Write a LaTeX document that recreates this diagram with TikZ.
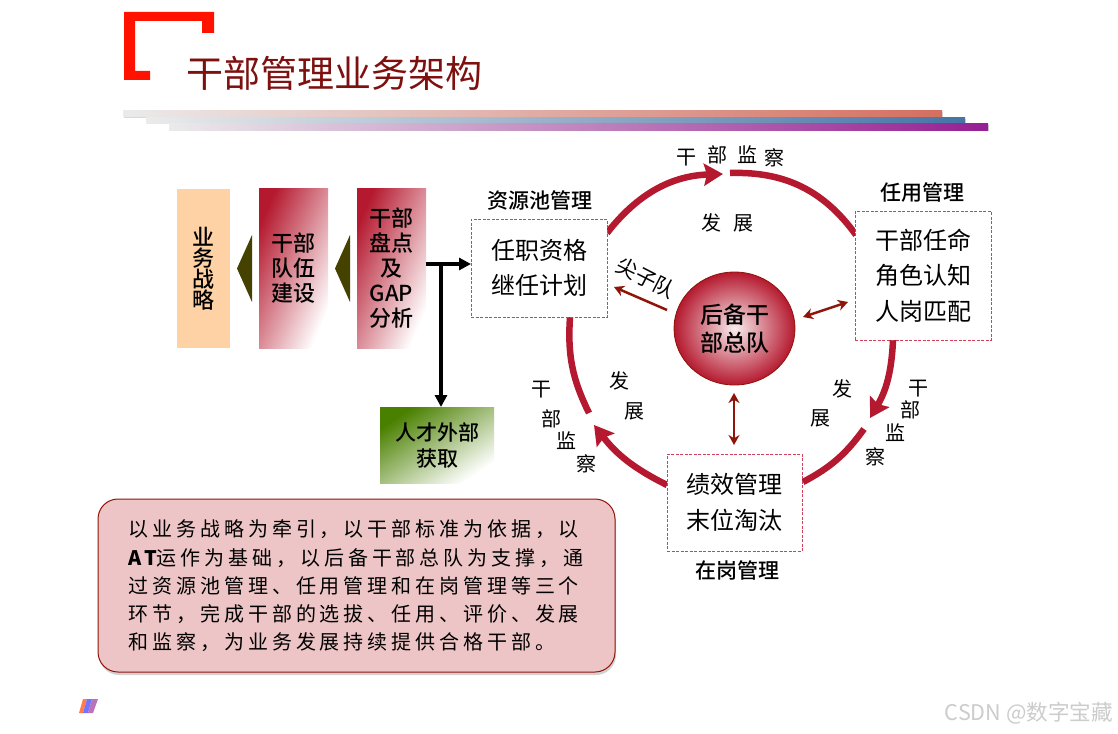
\documentclass[tikz,border=0pt]{standalone}
\usepackage{fontspec}
\setmainfont{Noto Sans CJK SC}
\newfontfamily\spreadfont[LetterSpace=19.5]{Noto Sans CJK SC}
\newfontfamily\midfont{Noto Sans CJK SC Medium}
\usetikzlibrary{arrows.meta,shadows,shapes.geometric}
\newcommand{\fsize}[2]{\fontsize{#1}{#2}\selectfont}
\definecolor{ringred}{HTML}{B5192F}
\definecolor{linkred}{HTML}{8F1409}
\definecolor{dashred}{HTML}{D2405C}
\definecolor{titlered}{HTML}{7E1010}
\definecolor{wedge}{HTML}{454200}
\definecolor{leafgreen}{HTML}{4A8000}
\definecolor{barred}{HTML}{D56F60}
\definecolor{barblue}{HTML}{4574A6}
\definecolor{barviolet}{HTML}{952093}
\definecolor{panelpink}{HTML}{EEC5C6}
\tikzset{
	block/.style={inner sep=0pt, align=center, text=black, top color=ringred, bottom color=white, shading angle=66.7, font=\midfont\fsize{22}{25}},
	dashbox/.style={draw=dashred, dash pattern=on 3pt off 1.5pt, line width=1pt, fill=white, inner sep=0pt, align=center, font=\fsize{24}{35.5}},
	head/.style={font=\midfont\fsize{21}{25}, text=black, inner sep=0pt},
	tag/.style={font=\fsize{20}{20}, inner sep=0pt},
	ring/.style={ringred, line width=6.5pt},
	ringarrow/.style={ring, -{Stealth[length=19pt,width=22pt,inset=3pt]}},
	link/.style={linkred, line width=2.5pt, >={Stealth[length=10pt,width=11pt]}},
	feed/.style={black, line width=3.5pt, -{Triangle[length=12pt,width=12pt]}},
	bar/.style={drop shadow={shadow xshift=1pt, shadow yshift=-1pt, opacity=0.3}}
}
\begin{document}
\begin{tikzpicture}[x=1pt, y=-1pt]
	\useasboundingbox (0,0) rectangle (1118,733);
	\fill[white] (0,0) rectangle (1118,733);
	% heading
	\fill[red!85!orange] (124,12) -- (214,12) -- (214,33) -- (202,33) -- (202,21) -- (135,21) -- (135,71) -- (150,71) -- (150,80) -- (124,80) -- cycle;
	\node[font=\fsize{37}{37}, text=titlered, inner sep=0pt] (title) at (334,73) {干部管理业务架构};
	\fill[bar, left color=black!8, middle color=barred!50!black!8, right color=barred] (123,111) rectangle (942,117);
	\fill[bar, left color=black!8, middle color=barblue!50!black!8, right color=barblue] (146,118) rectangle (965,123.5);
	\fill[bar, left color=black!8, middle color=barviolet!50!black!8, right color=barviolet] (169,124) rectangle (988,130);
	% left column
	\node[inner sep=0pt, fill=orange!35!white, minimum width=53pt, minimum height=159pt, align=center, font=\midfont\fsize{22}{21}, text=black] (strategy) at (203.5,268.5) {业\\务\\战\\略};
	\node[block, minimum width=69pt, minimum height=160pt] (team) at (293.5,268) {干部\\队伍\\建设};
	\node[block, minimum width=69pt, minimum height=160pt] (stock) at (391.5,268) {干部\\盘点\\及\\GAP\\分析};
	\node[block, top color=leafgreen, shading angle=33.7, minimum width=114pt, minimum height=76pt, font=\midfont\fsize{21}{26}] (outside) at (437,445) {人才外部\\获取};
	\fill[wedge] (252,235) -- (252,302) -- (237,268.5) -- cycle;
	\fill[wedge] (350,235) -- (350,302) -- (335,268.5) -- cycle;
	% ring
	\coordinate (a1) at (607,233);
	\coordinate (a2) at (723,174);
	\coordinate (b1) at (730,173);
	\coordinate (b2) at (856,235);
	\coordinate (c1) at (893,340);
	\coordinate (c2) at (870,418);
	\coordinate (d1) at (864,429);
	\coordinate (d2) at (803,482);
	\coordinate (e1) at (667,485);
	\coordinate (e2) at (594,425);
	\coordinate (f1) at (589,413);
	\coordinate (f2) at (570,317);
	\draw[ringarrow] (a1) to[bend left=25] (a2);
	\draw[ring] (b1) to[bend left=28] (b2);
	\draw[ringarrow] (c1) to[bend left=14] (c2);
	\draw[ring] (d1) to[bend left=13] (d2);
	\draw[ringarrow] (e1) to[bend left=13] (e2);
	\draw[ring] (f1) to[bend left=15] (f2);
	\node[dashbox, minimum width=136pt, minimum height=98pt] (pool) at (539,268) {任职资格\\继任计划};
	\node[dashbox, minimum width=136pt, minimum height=129pt] (appoint) at (923,275.5) {干部任命\\角色认知\\人岗匹配};
	\node[dashbox, minimum width=135pt, minimum height=97pt] (review) at (734.5,502.5) {绩效管理\\末位淘汰};
	\node[head] (poolhead) at (540,200) {资源池管理};
	\node[head] (appointhead) at (922,193) {任用管理};
	\node[head] (reviewhead) at (737,570) {在岗管理};
	\node[ellipse, draw=linkred, line width=0.8pt, minimum width=121pt, minimum height=113pt, inner sep=0pt, inner color=ringred!8!white, outer color=ringred, align=center, font=\midfont\fsize{23}{28}, text=black] (hub) at (734.5,328.5) {后备干\\部总队};
	% links
	\coordinate (s1) at (667,310);
	\coordinate (s2) at (614,287);
	\coordinate (r1) at (803,317);
	\coordinate (r2) at (848,302);
	\coordinate (v1) at (734,393);
	\coordinate (v2) at (734,445);
	\draw[link, ->] (s1) -- (s2);
	\draw[link, <->] (r1) -- (r2);
	\draw[link, <->] (v1) -- (v2);
	\node[font=\fsize{21}{21}, rotate=-27, inner sep=0pt] (elite) at (646,278) {尖子队};
	% feed lines
	\coordinate (t1) at (426,264);
	\coordinate (t2) at (471,264);
	\coordinate (t3) at (441,264);
	\coordinate (t4) at (441,407);
	\draw[feed] (t1) -- (t2);
	\draw[feed] (t3) -- (t4);
	% ring labels
	\node[tag] (ta) at (686,158) {干};
	\node[tag] (tb) at (717,155) {部};
	\node[tag] (tc) at (747,155) {监};
	\node[tag] (td) at (774,158) {察};
	\node[tag] (te) at (711,223) {发};
	\node[tag] (tf) at (743,223) {展};
	\node[tag] (ra) at (918,389) {干};
	\node[tag] (rb) at (910,410) {部};
	\node[tag] (rc) at (895,433) {监};
	\node[tag] (rd) at (875,457) {察};
	\node[tag] (re) at (842,389) {发};
	\node[tag] (rf) at (820,418) {展};
	\node[tag] (la) at (541,390) {干};
	\node[tag] (lb) at (551,419) {部};
	\node[tag] (lc) at (566,441) {监};
	\node[tag] (ld) at (586,464) {察};
	\node[tag] (le) at (619,381) {发};
	\node[tag] (lf) at (634,411) {展};
	% summary
	\node[draw=linkred, line width=1pt, fill=panelpink, rounded corners=20pt, minimum width=517pt, minimum height=173pt, drop shadow={shadow xshift=1pt, shadow yshift=-3pt, opacity=0.35}] (summary) at (356.5,585.5) {};
	\node[inner sep=0pt, align=left, font=\spreadfont\fsize{20}{28.2}, text=black] (summarytext) at (356,586) {以业务战略为牵引，以干部标准为依据，以\\[0pt]{\bfseries AT}运作为基础，以后备干部总队为支撑，通\\过资源池管理、任用管理和在岗管理等三个\\环节，完成干部的选拔、任用、评价、发展\\和监察，为业务发展持续提供合格干部。};
	% corner marks
	\fill[red!45!orange!70!white] (83,699) -- (87,699) -- (83,713) -- (79,713) -- cycle;
	\fill[blue!55!white] (87,699) -- (92,699) -- (88,713) -- (83,713) -- cycle;
	\fill[violet!55!white] (92,699) -- (98,699) -- (93,713) -- (88,713) -- cycle;
	\node[font=\fsize{21.6}{22}, text=black!20, inner sep=0pt] (mark) at (1029,713) {CSDN @数字宝藏};
\end{tikzpicture}
\end{document}
